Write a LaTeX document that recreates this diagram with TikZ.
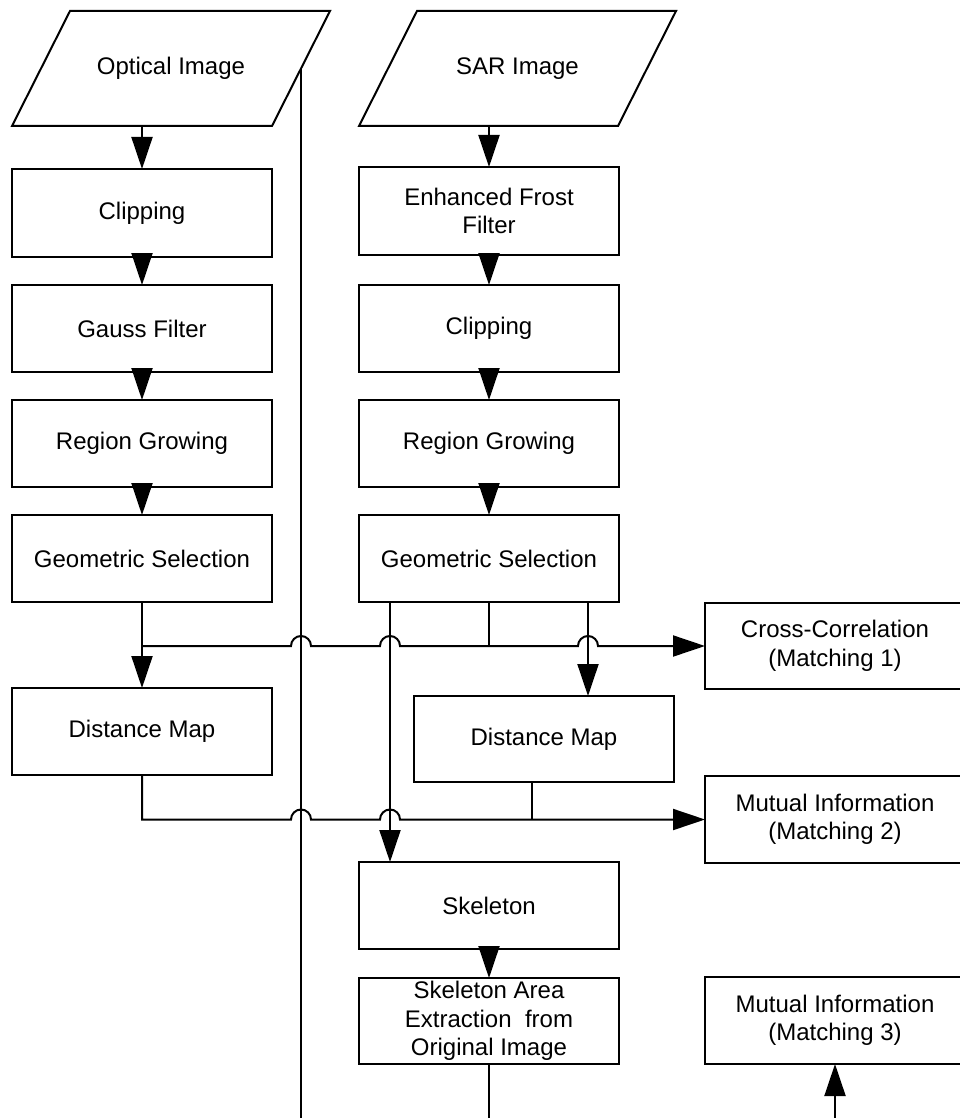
\documentclass[tikz,border=0pt]{standalone}
\usepackage{fontspec}
\setmainfont{Liberation Sans}
\usetikzlibrary{arrows.meta}
\begin{document}
\begin{tikzpicture}[x=1pt,y=-1pt,
  txt/.style={font=\fontsize{24}{28.5}\selectfont},
  box/.style={txt,draw,line width=2pt,minimum width=260pt,minimum height=87pt,inner sep=2pt,outer sep=0pt,align=center,anchor=north west},
  iotext/.style={txt,inner sep=0pt},
  ln/.style={line width=2pt},
  arr/.style={line width=2pt,-{Triangle[length=32pt,width=21pt]}}]
\useasboundingbox (0,0) rectangle (960,1118);
\clip (0,0) rectangle (960,1118);
% input shapes (parallelograms)
\draw[ln,line join=miter] (12,126) -- (70,11) -- (330,11) -- (272,126) -- cycle;
\node[iotext] (opt) at (171,68.5) {Optical Image};
\draw[ln,line join=miter] (359,126) -- (417,11) -- (676,11) -- (618,126) -- cycle;
\node[iotext] (sar) at (517.5,68.5) {SAR Image};
\coordinate (optS) at (142,126);
\coordinate (optE) at (301,68.5);
\coordinate (sarS) at (489,126);
% left column
\node[box,minimum height=88pt] (clipL) at (12,169) {Clipping};
\node[box] (gauss) at (12,285) {Gauss Filter};
\node[box] (regL) at (12,400) {Region Growing};
\node[box] (geoL) at (12,515) {Geometric Selection};
\node[box] (distL) at (12,688) {Distance Map};
% right column
\node[box,minimum height=88pt] (frost) at (359,167) {Enhanced Frost\\Filter};
\node[box] (clipR) at (359,285) {Clipping};
\node[box] (regR) at (359,400) {Region Growing};
\node[box] (geoR) at (359,515) {Geometric Selection};
\node[box,minimum height=86pt] (distR) at (414,696) {Distance Map};
\node[box] (skel) at (359,862) {Skeleton};
\node[box,minimum height=86pt] (skarea) at (359,978) {Skeleton Area\\Extraction~ from\\Original Image};
% matching boxes
\node[box,minimum height=86pt] (cross) at (705,603) {Cross-Correlation\\(Matching 1)};
\node[box] (mi2) at (705,776) {Mutual Information\\(Matching 2)};
\node[box] (mi3) at (705,977) {Mutual Information\\(Matching 3)};
% helper coordinates
\coordinate (bl) at (301,1118);
\coordinate (gr1) at (390,602);
\coordinate (gr3) at (588,602);
\coordinate (dr) at (532,782);
\coordinate (b3) at (835,1118);
% chains
\draw[arr] (optS) -- (clipL.north);
\draw[arr] (clipL) -- (gauss);
\draw[arr] (gauss) -- (regL);
\draw[arr] (regL) -- (geoL);
\draw[arr] (sarS) -- (frost.north);
\draw[arr] (frost) -- (clipR);
\draw[arr] (clipR) -- (regR);
\draw[arr] (regR) -- (geoR);
% long line
\draw[ln] (optE) -- (bl);
% geometric selection outputs
\draw[arr] (geoL) -- (distL);
\draw[ln] (geoR.south) -- (geoR.south |- cross.west);
\draw[arr] (gr1) -- (gr1 |- skel.north);
\draw[arr] (gr3) -- (gr3 |- distR.north);
\draw[arr] (geoL.south |- cross.west) -- (291,0 |- cross.west)
  arc[start angle=180,end angle=0,radius=10pt] -- (380,0 |- cross.west)
  arc[start angle=180,end angle=0,radius=10pt] -- (578,0 |- cross.west)
  arc[start angle=180,end angle=0,radius=10pt] -- (cross.west);
% distance maps to matching 2
\draw[arr] (distL.south) -- (distL.south |- mi2.west) -- (291,0 |- mi2.west)
  arc[start angle=180,end angle=0,radius=10pt] -- (380,0 |- mi2.west)
  arc[start angle=180,end angle=0,radius=10pt] -- (mi2.west);
\draw[ln] (dr) -- (dr |- mi2.west);
% skeleton
\draw[arr] (skel) -- (skarea);
\draw[ln] (skarea.south) -- (skarea.south |- bl);
\draw[arr] (b3) -- (mi3.south);
\end{tikzpicture}
\end{document}
